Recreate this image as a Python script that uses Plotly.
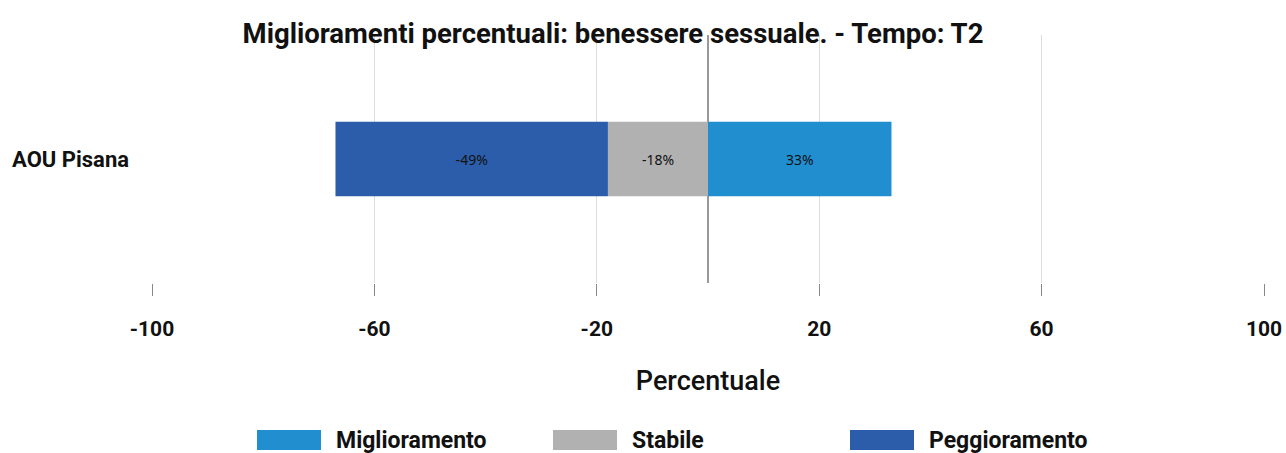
import plotly.graph_objects as go

categories = ["AOU Pisana"]
series_names = ["Miglioramento", "Stabile", "Peggioramento"]
miglioramento = [33]
stabile = [-18]
peggioramento = [-49]
colors = ["#218ED0", "#B1B1B1", "#2C5DAA"]
tick_values = [-100, -60, -20, 20, 60, 100]

W, H = 1286, 453
# plot area in page pixels
SX0, SX1, SY0, SY1 = 152, 1264, 35, 283
L, R = SX0, W - SX1
T, B = SY0, H - SY1
PW, PH = W - L - R, H - T - B

def px_x(x):
    return (x - L) / PW

def px_y(y):
    return (H - B - y) / PH

FONT = "Roboto"

fig = go.Figure()
for name, vals, col in zip(series_names, [miglioramento, stabile, peggioramento], colors):
    fig.add_trace(go.Bar(
        y=categories, x=vals, name=name, orientation="h",
        marker=dict(color=col, line=dict(width=0)),
        text=[f"{v}%" for v in vals], textposition="inside",
        insidetextanchor="middle",
        textfont=dict(family="Noto Sans", size=14, color="#111111"),
        width=0.3, showlegend=False,
    ))

# custom legend (large swatches)
legend_x = [257, 553, 850]
for name, col, lx in zip(series_names, colors, legend_x):
    fig.add_shape(type="rect", xref="paper", yref="paper",
                  x0=px_x(lx), x1=px_x(lx + 64), y0=px_y(450), y1=px_y(430),
                  fillcolor=col, line=dict(width=0))
    fig.add_annotation(xref="paper", yref="paper", x=px_x(lx + 77), y=px_y(440),
                       text=f"<b>{name}</b>", showarrow=False, xanchor="left", yanchor="middle",
                       font=dict(family=FONT, size=23, color="#111111"))

fig.update_layout(
    width=W, height=H,
    margin=dict(l=L, r=R, t=T, b=B, autoexpand=False),
    barmode="relative",
    plot_bgcolor="white", paper_bgcolor="white",
    title=dict(text="<b>Miglioramenti percentuali: benessere sessuale. - Tempo: T2</b>",
               x=613 / W, xref="container", xanchor="center",
               y=1 - 33 / H, yanchor="middle",
               font=dict(family=FONT, size=27.5, color="#111111")),
    font=dict(family=FONT, color="#111111"),
)
fig.update_xaxes(
    range=[-100, 100], tickvals=tick_values, ticktext=[str(v) for v in tick_values],
    showgrid=True, gridcolor="#DDDDDD", gridwidth=1,
    zeroline=True, zerolinecolor="#999999", zerolinewidth=1.5,
    ticks="outside", ticklen=12, tickcolor="#888888", tickwidth=1,
    tickfont=dict(family=FONT, size=21, color="#111111", weight="bold"),
    ticklabelstandoff=15, ticklabeloverflow="allow",
    showline=False,
    title=dict(text="Percentuale", standoff=30,
               font=dict(family=FONT, size=27, color="#111111", weight=500)),
)
fig.update_yaxes(
    showgrid=False, zeroline=False, showline=False, range=[-0.5, 0.5],
    tickfont=dict(family=FONT, size=22, color="#111111", weight="bold"),
    ticks="", ticklabelstandoff=22,
)

fig.write_html("out.html", config={"displayModeBar": False},
               post_script="document.body.style.margin='0';document.body.style.overflow='hidden';")
